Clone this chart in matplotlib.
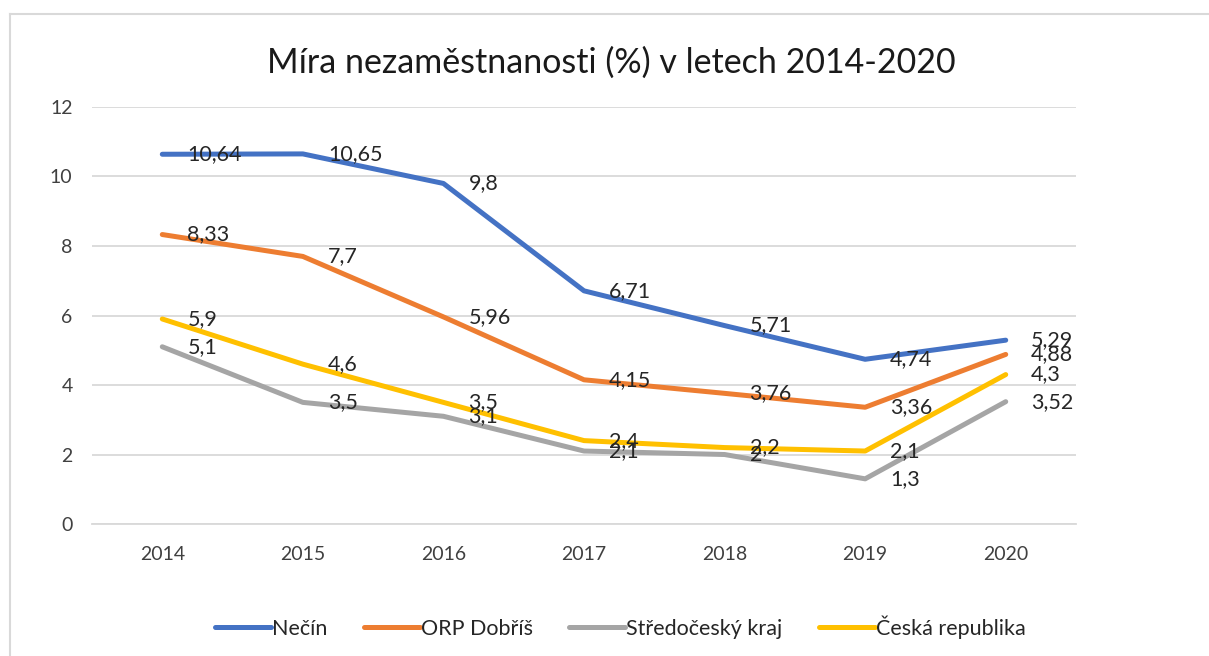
import matplotlib.pyplot as plt
from matplotlib.lines import Line2D

plt.rcParams['font.family'] = ['Lato', 'DejaVu Sans']

roky = ['2014', '2015', '2016', '2017', '2018', '2019', '2020']
necin = [10.64, 10.65, 9.8, 6.71, 5.71, 4.74, 5.29]
orp_dobris = [8.33, 7.7, 5.96, 4.15, 3.76, 3.36, 4.88]
stredocesky = [5.1, 3.5, 3.1, 2.1, 2, 1.3, 3.52]
cr = [5.9, 4.6, 3.5, 2.4, 2.2, 2.1, 4.3]

nazvy = ['Nečín', 'ORP Dobříš', 'Středočeský kraj', 'Česká republika']
barvy = ['#4472C4', '#ED7D31', '#A5A5A5', '#FFC000']

fig = plt.figure(figsize=(12.09, 6.56), dpi=100)
ax = fig.add_axes([0.0761, 0.2012, 0.8139, 0.6357])

x = range(len(roky))
for serie, nazev, barva in zip([necin, orp_dobris, stredocesky, cr], nazvy, barvy):
    ax.plot(x, serie, color=barva, linewidth=3.6, label=nazev, solid_capstyle='round')

# popisky dat vpravo od bodu
for serie in [necin, orp_dobris, stredocesky, cr]:
    for i, v in enumerate(serie):
        ax.annotate(f'{v:g}'.replace('.', ','), (i, v), xytext=(18, 0),
                    textcoords='offset points', va='center', ha='left',
                    fontsize=15.5, color='#262626', zorder=5)

ax.set_xlim(-0.5, 6.5)
ax.set_ylim(0, 12)
ax.set_yticks(range(0, 13, 2))
ax.set_xticks(list(x))
ax.set_xticklabels(roky)
ax.grid(axis='y', color='#D9D9D9', linewidth=1.3)
ax.set_axisbelow(True)
for s in ['top', 'right', 'left']:
    ax.spines[s].set_visible(False)
ax.spines['bottom'].set_color('#D9D9D9')
ax.spines['bottom'].set_linewidth(1.3)
ax.tick_params(axis='both', length=0, labelsize=14, colors='#404040')
ax.tick_params(axis='x', pad=16)
ax.tick_params(axis='y', pad=14)

fig.text(0.506, 0.905, 'Míra nezaměstnanosti (%) v letech 2014-2020',
         ha='center', va='center', fontsize=24.5, color='#1a1a1a')

fig.legend(loc='center', bbox_to_anchor=(0.513, 0.044), ncol=4, frameon=False,
           fontsize=15.5, handlelength=2.6, handletextpad=0.05, columnspacing=1.7,
           labelcolor='#262626')

# okraj grafu
fig.add_artist(Line2D([10 / 1209, 10 / 1209], [0, 1 - 14 / 656], color='#D9D9D9', linewidth=1.5))
fig.add_artist(Line2D([10 / 1209, 1], [1 - 14 / 656, 1 - 14 / 656], color='#D9D9D9', linewidth=1.5))

fig.savefig('out.png', dpi=100)
